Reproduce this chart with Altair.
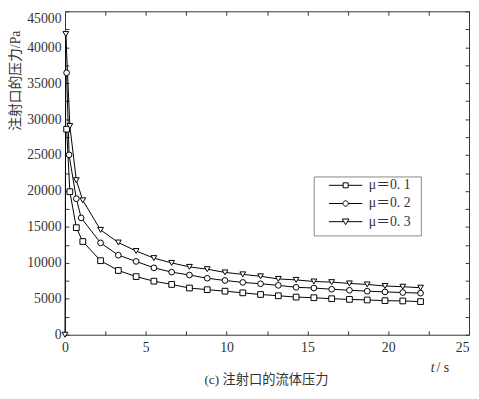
import altair as alt
import pandas as pd

series_names = ["μ＝0. 1", "μ＝0. 2", "μ＝0. 3"]

t_mu1 = [0.1, 0.3, 0.7, 1.1, 2.2, 3.3, 4.4, 5.5, 6.6, 7.7, 8.8, 9.9, 11.0, 12.1,
         13.2, 14.3, 15.4, 16.5, 17.6, 18.7, 19.8, 20.9, 22.0]
p_mu1 = [28600, 19900, 14900, 12970, 10300, 8940, 8090, 7450, 7000, 6500, 6270,
         6060, 5830, 5600, 5420, 5240, 5150, 5010, 4920, 4840, 4740, 4700, 4610]

t_mu2 = [0.1, 0.25, 0.7, 1.0, 2.2, 3.3, 4.4, 5.5, 6.6, 7.7, 8.8, 9.9, 11.0, 12.1,
         13.2, 14.3, 15.4, 16.5, 17.6, 18.7, 19.8, 20.9, 22.0]
p_mu2 = [36450, 25030, 18930, 16260, 12780, 11070, 10200, 9310, 8710, 8310, 7860,
         7550, 7280, 7090, 6870, 6600, 6500, 6330, 6190, 6060, 5960, 5870, 5790]

t_mu3 = [0.0, 0.05, 0.3, 0.7, 1.1, 2.2, 3.3, 4.4, 5.5, 6.6, 7.7, 8.8, 9.9, 11.0,
         12.1, 13.2, 14.3, 15.4, 16.5, 17.6, 18.7, 19.8, 20.9, 22.0]
p_mu3 = [0, 41840, 29040, 21500, 18700, 14590, 12830, 11650, 10660, 9990, 9440,
         9120, 8670, 8400, 8130, 7760, 7630, 7410, 7320, 7140, 7000, 6780, 6680, 6540]

x_ticks = [0, 2.5, 5, 7.5, 10, 12.5, 15, 17.5, 20, 22.5, 25]
y_ticks = [0, 2500, 5000, 7500, 10000, 12500, 15000, 17500, 20000, 22500, 25000,
           27500, 30000, 32500, 35000, 37500, 40000, 42500, 45000]

y_title = "注射口的压力/Pa"
caption = "(c)  注射口的流体压力"

rows = []
for name, ts, ps in zip(series_names, [t_mu1, t_mu2, t_mu3], [p_mu1, p_mu2, p_mu3]):
    for t, p in zip(ts, ps):
        rows.append({"series": name, "t": t, "p": p})
df = pd.DataFrame(rows)

W, H = 411, 329
FONT = "Liberation Serif, Noto Sans CJK SC"
INK = "#333333"

x_scale = alt.Scale(domain=[0, 25], nice=False)
y_scale = alt.Scale(domain=[0, 45000], nice=False)

axis_common = dict(grid=False, domainColor=INK, tickColor=INK, tickSize=4,
                   labelFont=FONT, labelFontSize=14, labelColor=INK,
                   labelFlush=False, labelOverlap=False)

x_axis_lab = alt.Axis(orient="bottom", offset=-H, values=x_ticks,
                      labelExpr="datum.value % 5 == 0 ? format(datum.value, 'd') : ''",
                      labelAlign={"condition": {"test": "datum.value >= 25", "value": "right"},
                                  "value": "center"},
                      labelPadding=H + 2, title=None, **axis_common)
y_axis_lab = alt.Axis(orient="right", offset=-W, values=y_ticks,
                      labelExpr="datum.value % 5000 == 0 ? format(datum.value, 'd') : ''",
                      labelPadding=-8, labelAlign="right",
                      labelBaseline={"condition": {"test": "datum.value >= 45000", "value": "top"},
                                     "value": "middle"},
                      title=y_title, titleFont=FONT, titleFontSize=14,
                      titleFontWeight="normal", titleColor=INK, titleAngle=270,
                      titleX=-50, titleY=70, titleAlign="center",
                      titleBaseline="middle", **axis_common)
x_axis_tk = alt.Axis(orient="top", offset=-H, values=x_ticks, labels=False,
                     title=None, **axis_common)
y_axis_tk = alt.Axis(orient="left", offset=-W, values=y_ticks, labels=False,
                     title=None, **axis_common)

# legend frame (drawn beneath the legend entries)
frame_df = pd.DataFrame({"k": [0]})
frame = alt.Chart(frame_df).mark_rect(fill="white", stroke="#888888",
                                      strokeWidth=1).encode(
    x=alt.value(253.5), x2=alt.value(362.5),
    y=alt.value(168.5), y2=alt.value(228.5))

lines = alt.Chart(df).mark_line(color="black", strokeWidth=1).encode(
    x=alt.X("t:Q", scale=x_scale, axis=x_axis_lab),
    y=alt.Y("p:Q", scale=y_scale, axis=y_axis_lab),
    detail="series:N",
    order="t:Q",
)

points = alt.Chart(df).mark_point(filled=True, fill="white", stroke="black",
                                  strokeWidth=1, size=34, opacity=1).encode(
    x=alt.X("t:Q", scale=x_scale, axis=x_axis_tk),
    y=alt.Y("p:Q", scale=y_scale, axis=y_axis_tk),
    shape=alt.Shape("series:N",
                    scale=alt.Scale(domain=series_names,
                                    range=["square", "circle", "triangle-down"]),
                    legend=None),
)

xc = 0.41
x0, x1 = xc - 1.0, xc + 1.0
sq_path = (f"M{x0:.3f},0H{xc-0.15:.3f}M{xc+0.15:.3f},0H{x1:.3f}"
           f"M{xc-0.15:.3f},-0.15H{xc+0.15:.3f}V0.15H{xc-0.15:.3f}Z")
ci_path = (f"M{x0:.3f},0H{xc-0.16:.3f}M{xc+0.16:.3f},0H{x1:.3f}"
           f"M{xc-0.16:.3f},0A0.16,0.16,0,1,0,{xc+0.16:.3f},0"
           f"A0.16,0.16,0,1,0,{xc-0.16:.3f},0Z")
tr_path = (f"M{x0:.3f},0H{xc-0.11:.3f}M{xc+0.11:.3f},0H{x1:.3f}"
           f"M{xc-0.2:.3f},-0.16L{xc+0.2:.3f},-0.16L{xc:.3f},0.18Z")

legend_layer = alt.Chart(df).mark_point(filled=False, color="black",
                                        strokeWidth=1, clip=True).encode(
    x=alt.value(-60),
    y=alt.value(-60),
    shape=alt.Shape("series:N",
                    scale=alt.Scale(domain=series_names,
                                    range=[sq_path, ci_path, tr_path]),
                    legend=alt.Legend(title=None, orient="none", legendX=257,
                                      legendY=166, strokeColor="transparent",
                                      padding=4,
                                      clipHeight=14, rowPadding=4.5,
                                      symbolSize=1156, symbolStrokeWidth=1,
                                      symbolStrokeColor="black",
                                      symbolOpacity=1, labelOffset=13,
                                      labelFont=FONT, labelFontSize=14,
                                      labelColor=INK, labelLimit=0)),
)

cap_df = pd.DataFrame({"txt": [caption]})
cap = alt.Chart(cap_df).mark_text(font=FONT, fontSize=13.5, color=INK,
                                  align="center", baseline="middle").encode(
    x=alt.value(205), y=alt.value(375), text="txt:N")

t_df = pd.DataFrame({"txt": ["t"]})
t_lab = alt.Chart(t_df).mark_text(font=FONT, fontSize=14, fontStyle="italic",
                                  color=INK, align="center",
                                  baseline="middle").encode(
    x=alt.value(374), y=alt.value(363), text="txt:N")
s_df = pd.DataFrame({"txt": ["/ s"]})
s_lab = alt.Chart(s_df).mark_text(font=FONT, fontSize=14, color=INK,
                                  align="left", baseline="middle").encode(
    x=alt.value(378), y=alt.value(363), text="txt:N")

chart = alt.layer(frame, lines, points, legend_layer, cap, t_lab, s_lab).resolve_scale(
    shape="independent").properties(
    width=W, height=H,
    autosize=alt.AutoSizeParams(type="none"),
    padding={"left": 58, "top": 0, "right": 2, "bottom": 62},
).configure_view(stroke=None)

chart.save("out.html", embed_options={"renderer": "svg", "actions": False})
